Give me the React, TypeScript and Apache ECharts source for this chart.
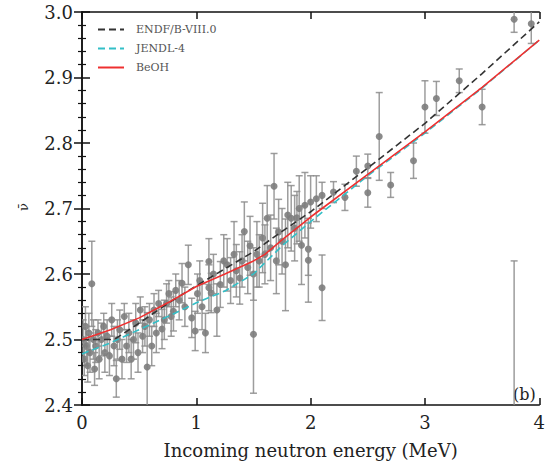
import React, { useEffect, useRef } from "react";
import * as echarts from "echarts";

// Evaluated curves: [energy MeV, nu-bar]
const endfCurve: number[][] = [
  [0, 2.5], [0.25, 2.5], [0.3, 2.502], [0.5, 2.525], [0.75, 2.555], [1.0, 2.582],
  [1.25, 2.608], [1.5, 2.634], [1.75, 2.665], [2.0, 2.695], [2.5, 2.762],
  [3.0, 2.83], [3.5, 2.906], [4.0, 2.985],
];
const jendlCurve: number[][] = [
  [0, 2.478], [0.25, 2.495], [0.5, 2.515], [0.75, 2.535], [1.0, 2.556], [1.25, 2.574],
  [1.5, 2.6], [1.75, 2.643], [2.0, 2.68], [2.5, 2.75], [3.0, 2.815], [3.5, 2.884], [4.0, 2.957],
];
const beohCurve: number[][] = [
  [0, 2.5], [0.25, 2.515], [0.5, 2.533], [0.75, 2.556], [1.0, 2.581], [1.25, 2.6],
  [1.5, 2.62], [1.6, 2.63], [1.75, 2.652], [2.0, 2.687], [2.5, 2.752], [3.0, 2.817],
  [3.5, 2.885], [4.0, 2.957],
];

// Experimental data: [energy, nu-bar, uncertainty]
const expData: number[][] = [
  [0.01, 2.50, 0.03], [0.02, 2.47, 0.025], [0.03, 2.52, 0.03], [0.04, 2.49, 0.03],
  [0.05, 2.46, 0.025], [0.06, 2.51, 0.03], [0.07, 2.48, 0.03], [0.086, 2.585, 0.065],
  [0.10, 2.50, 0.03], [0.11, 2.455, 0.025], [0.12, 2.49, 0.025], [0.14, 2.51, 0.02],
  [0.15, 2.47, 0.03], [0.17, 2.50, 0.025], [0.19, 2.52, 0.02], [0.20, 2.48, 0.03],
  [0.22, 2.505, 0.025], [0.24, 2.475, 0.03], [0.26, 2.53, 0.025], [0.28, 2.49, 0.03],
  [0.30, 2.44, 0.028], [0.31, 2.50, 0.03], [0.33, 2.515, 0.03], [0.35, 2.47, 0.03],
  [0.37, 2.535, 0.02], [0.39, 2.49, 0.025], [0.41, 2.51, 0.03], [0.43, 2.47, 0.03],
  [0.45, 2.50, 0.03], [0.47, 2.525, 0.03], [0.49, 2.48, 0.03], [0.51, 2.545, 0.02],
  [0.53, 2.505, 0.025], [0.55, 2.52, 0.03], [0.57, 2.458, 0.083], [0.59, 2.53, 0.025],
  [0.61, 2.49, 0.03], [0.63, 2.545, 0.025], [0.65, 2.51, 0.03], [0.67, 2.555, 0.02],
  [0.70, 2.516, 0.03], [0.72, 2.53, 0.03], [0.74, 2.555, 0.03], [0.76, 2.57, 0.02],
  [0.78, 2.535, 0.03], [0.80, 2.543, 0.03], [0.82, 2.575, 0.025], [0.85, 2.56, 0.03],
  [0.875, 2.586, 0.03], [0.90, 2.55, 0.03], [0.93, 2.614, 0.03], [0.96, 2.533, 0.03],
  [0.99, 2.513, 0.03], [1.01, 2.57, 0.03], [1.03, 2.59, 0.03], [1.05, 2.55, 0.035],
  [1.08, 2.51, 0.03], [1.11, 2.619, 0.035], [1.11, 2.579, 0.035], [1.13, 2.571, 0.03],
  [1.15, 2.60, 0.03], [1.18, 2.545, 0.04], [1.21, 2.584, 0.035], [1.24, 2.62, 0.04],
  [1.27, 2.614, 0.04], [1.30, 2.59, 0.035], [1.33, 2.63, 0.05], [1.35, 2.605, 0.04],
  [1.38, 2.594, 0.04], [1.40, 2.62, 0.04], [1.42, 2.665, 0.045], [1.45, 2.61, 0.04],
  [1.47, 2.643, 0.045], [1.50, 2.60, 0.04], [1.50, 2.508, 0.09], [1.53, 2.63, 0.05],
  [1.55, 2.62, 0.04], [1.58, 2.655, 0.053], [1.60, 2.63, 0.045], [1.62, 2.685, 0.05],
  [1.65, 2.64, 0.05], [1.68, 2.734, 0.05], [1.70, 2.62, 0.05], [1.72, 2.664, 0.05],
  [1.75, 2.65, 0.05], [1.78, 2.614, 0.07], [1.80, 2.69, 0.05], [1.83, 2.685, 0.05],
  [1.86, 2.67, 0.05], [1.88, 2.686, 0.04], [1.90, 2.70, 0.05], [1.92, 2.644, 0.06],
  [1.95, 2.705, 0.05], [1.98, 2.638, 0.04], [1.98, 2.621, 0.064], [2.00, 2.71, 0.04],
  [2.05, 2.715, 0.035], [2.10, 2.72, 0.02], [2.10, 2.579, 0.05], [2.20, 2.725, 0.016],
  [2.30, 2.717, 0.02], [2.40, 2.757, 0.023], [2.50, 2.765, 0.018], [2.50, 2.724, 0.022],
  [2.60, 2.81, 0.067], [2.70, 2.736, 0.019], [2.90, 2.773, 0.027], [3.00, 2.855, 0.04],
  [3.10, 2.868, 0.026], [3.30, 2.895, 0.018], [3.50, 2.855, 0.027], [3.78, 2.989, 0.02],
  [3.93, 2.982, 0.03], [3.78, 2.38, 0.24],
];

const xTicks = { min: 0, max: 4, interval: 1 };
const yTicks = { min: 2.4, max: 3.0, interval: 0.1 };

const FONT = "DejaVu Serif";

export default function App() {
  const ref = useRef<HTMLDivElement>(null);
  useEffect(() => {
    if (!ref.current) return;
    const chart = echarts.init(ref.current, undefined, { renderer: "svg" });
    const axisLine = { show: true, lineStyle: { color: "#111", width: 1.5 } };
    const baseX = {
      type: "value" as const,
      min: xTicks.min,
      max: xTicks.max,
      interval: xTicks.interval,
      splitLine: { show: false },
      axisLine,
      axisTick: { show: true, inside: true, length: 7, lineStyle: { color: "#111", width: 1.5 } },
    };
    const baseY = {
      type: "value" as const,
      min: yTicks.min,
      max: yTicks.max,
      interval: yTicks.interval,
      splitLine: { show: false },
      axisLine,
      axisTick: { show: true, inside: true, length: 8, lineStyle: { color: "#111", width: 1.5 } },
      minorTick: { show: true, splitNumber: 5, length: 4, lineStyle: { color: "#111", width: 1.2 } },
    };
    chart.setOption({
      animation: false,
      backgroundColor: "#fff",
      grid: { left: 82, right: 5, top: 12, bottom: 56, containLabel: false },
      xAxis: [
        {
          ...baseX,
          position: "bottom",
          axisLabel: { fontFamily: FONT, fontSize: 18, color: "#222", margin: 8 },
          name: "Incoming neutron energy (MeV)",
          nameLocation: "middle",
          nameGap: 36,
          nameTextStyle: { fontFamily: FONT, fontSize: 18, color: "#222" },
        },
        { ...baseX, position: "top", axisLabel: { show: false } },
      ],
      yAxis: [
        {
          ...baseY,
          position: "left",
          axisLabel: {
            fontFamily: FONT, fontSize: 18, color: "#222", margin: 9,
            formatter: (v: number) => v.toFixed(1),
          },
        },
        { ...baseY, position: "right", axisLabel: { show: false } },
      ],
      legend: {
        orient: "vertical",
        left: 92,
        top: 19,
        itemGap: 8,
        itemWidth: 26,
        itemHeight: 8,
        itemStyle: { opacity: 0 },
        textStyle: { fontFamily: FONT, fontSize: 11, color: "#555", padding: [0, 0, 0, 7] },
        data: ["ENDF/B-VIII.0", "JENDL-4", "BeOH"],
      },
      graphic: [
        {
          type: "text",
          left: 17,
          top: 203,
          rotation: Math.PI / 2,
          style: { text: "ν̄", fontFamily: FONT, fontSize: 13, fill: "#222" },
        },
        {
          type: "text",
          left: 513,
          top: 386,
          style: { text: "(b)", fontFamily: FONT, fontSize: 16, fill: "#222" },
        },
      ],
      series: [
        {
          type: "custom",
          name: "data",
          clip: true,
          data: expData,
          renderItem: (params: any, api: any) => {
            const x = api.value(0), y = api.value(1), e = api.value(2);
            const t = api.coord([x, y + e]);
            const b = api.coord([x, y - e]);
            const c = api.coord([x, y]);
            const cap = 3.5;
            const st = { stroke: "rgba(140,140,140,0.85)", lineWidth: 1.5 };
            return {
              type: "group",
              children: [
                { type: "line", shape: { x1: t[0], y1: t[1], x2: b[0], y2: b[1] }, style: st },
                { type: "line", shape: { x1: t[0] - cap, y1: t[1], x2: t[0] + cap, y2: t[1] }, style: st },
                { type: "line", shape: { x1: b[0] - cap, y1: b[1], x2: b[0] + cap, y2: b[1] }, style: st },
                { type: "circle", shape: { cx: c[0], cy: c[1], r: 3.5 }, style: { fill: "rgba(125,125,125,0.9)" } },
              ],
            };
          },
          z: 1,
        },
        {
          type: "line",
          name: "ENDF/B-VIII.0",
          data: endfCurve,
          showSymbol: false,
          symbol: "none",
          lineStyle: { color: "#333", width: 1.6, type: [7, 4] },
          itemStyle: { color: "#333" },
          z: 3,
        },
        {
          type: "line",
          name: "JENDL-4",
          data: jendlCurve,
          showSymbol: false,
          symbol: "none",
          lineStyle: { color: "#33bfc7", width: 1.6, type: [7, 4] },
          itemStyle: { color: "#33bfc7" },
          z: 2,
        },
        {
          type: "line",
          name: "BeOH",
          data: beohCurve,
          showSymbol: false,
          symbol: "none",
          lineStyle: { color: "#ee3030", width: 1.6 },
          itemStyle: { color: "#ee3030" },
          z: 4,
        },
      ],
    });
    return () => chart.dispose();
  }, []);
  return (
    <div
      ref={ref}
      style={{ position: "absolute", left: 0, top: 0, width: 548, height: 464 }}
    />
  );
}
